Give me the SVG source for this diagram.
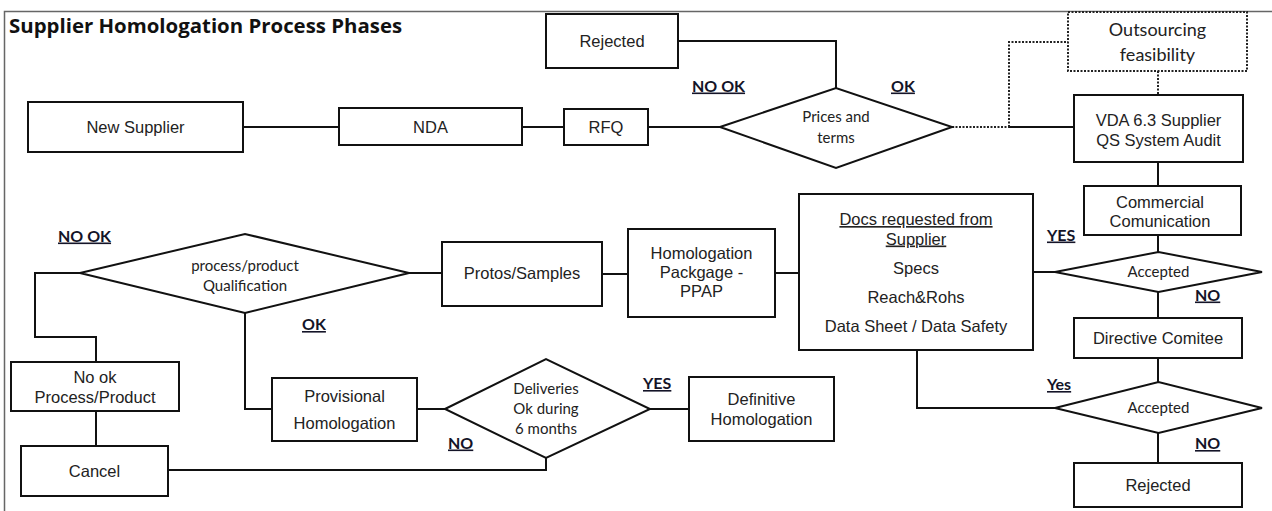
<svg xmlns="http://www.w3.org/2000/svg" width="1272" height="511" viewBox="0 0 1272 511">
<style>
.box{fill:#fff;stroke:#111;stroke-width:2}
.dbox{fill:#fff;stroke:#222;stroke-width:2;stroke-dasharray:2 1.5}
.conn{fill:none;stroke:#111;stroke-width:2}
.dot{fill:none;stroke:#222;stroke-width:2;stroke-dasharray:2 1.5}
.t{font-family:"Liberation Sans",Arial,sans-serif;font-size:16.5px;fill:#222;text-anchor:middle}
.c{font-family:Lato,"Open Sans",sans-serif;font-size:15px;fill:#222;text-anchor:middle}
.lbl{font-family:Lato,"Open Sans",sans-serif;font-weight:bold;font-size:16px;fill:#141428;text-decoration:underline}
.title{font-family:"Open Sans",Lato,sans-serif;font-weight:bold;font-size:20.4px;fill:#111}
</style>
<rect x="0" y="0" width="1272" height="511" fill="#fff"/>
<path d="M4.5,511 V11.5 H1272" fill="none" stroke="#666" stroke-width="1.5"/>
<text class="title" x="9" y="33">Supplier Homologation Process Phases</text>

<g id="connectors">
<path class="conn" d="M243,127 H339"/>
<path class="conn" d="M522,127 H564"/>
<path class="conn" d="M648,127 H720"/>
<path class="conn" d="M678,41 H836 V88"/>
<path class="dot" d="M952,127 H1009"/>
<path class="conn" d="M1009,127 H1074"/>
<path class="dot" d="M1009,127 V42 H1068"/>
<path class="dot" d="M1158,71 V95"/>
<path class="conn" d="M1158,162 V186"/>
<path class="conn" d="M1158,235 V252"/>
<path class="conn" d="M1033,272 H1055"/>
<path class="conn" d="M1158,292 V318"/>
<path class="conn" d="M1158,358 V382"/>
<path class="conn" d="M1158,433 V463"/>
<path class="conn" d="M917,350 V408 H1055"/>
<path class="conn" d="M775,273 H799"/>
<path class="conn" d="M602,274 H628"/>
<path class="conn" d="M409,273 H442"/>
<path class="conn" d="M80,273 H35 V337 H96 V362"/>
<path class="conn" d="M96,411 V446"/>
<path class="conn" d="M245,313 V409 H272"/>
<path class="conn" d="M417,409 H445"/>
<path class="conn" d="M650,409 H689"/>
<path class="conn" d="M546,458 V470 H168"/>
</g>

<g id="labels">
<text class="lbl" x="692" y="91.5">NO OK</text>
<text class="lbl" x="891" y="91.5">OK</text>
<text class="lbl" x="58" y="241.5">NO OK</text>
<text class="lbl" x="302" y="330">OK</text>
<text class="lbl" x="643" y="389">YES</text>
<text class="lbl" x="448" y="448.5">NO</text>
<text class="lbl" x="1047" y="240.5">YES</text>
<text class="lbl" x="1047" y="390">Yes</text>
<text class="lbl" x="1195" y="300.5">NO</text>
<text class="lbl" x="1195" y="449">NO</text>
</g>

<g id="rejected-top">
<rect class="box" x="546" y="14" width="132" height="54"/>
<text class="t" x="612" y="46.5">Rejected</text>
</g>
<g id="new-supplier">
<rect class="box" x="28" y="102" width="215" height="50"/>
<text class="t" x="135.5" y="133">New Supplier</text>
</g>
<g id="nda">
<rect class="box" x="339" y="108" width="183" height="37"/>
<text class="t" x="430.5" y="132.5">NDA</text>
</g>
<g id="rfq">
<rect class="box" x="564" y="109" width="84" height="36"/>
<text class="t" x="606" y="133">RFQ</text>
</g>
<g id="prices-terms">
<polygon class="box" points="720,127 836,88 952,127 836,168"/>
<text class="c" x="836" y="122">Prices and</text>
<text class="c" x="836" y="143">terms</text>
</g>
<g id="outsourcing">
<rect class="dbox" x="1068" y="12" width="179" height="59"/>
<text class="c" x="1157.5" y="35.5" style="font-size:18px">Outsourcing</text>
<text class="c" x="1157.5" y="60.5" style="font-size:18px">feasibility</text>
</g>
<g id="vda">
<rect class="box" x="1074" y="95" width="169" height="67"/>
<text class="t" x="1158.5" y="125.5">VDA 6.3 Supplier</text>
<text class="t" x="1158.5" y="145.5">QS System Audit</text>
</g>
<g id="commercial">
<rect class="box" x="1084" y="186" width="157" height="49"/>
<text class="t" x="1160" y="208">Commercial</text>
<text class="t" x="1160" y="227">Comunication</text>
</g>
<g id="accepted-1">
<polygon class="box" points="1055,272 1158.5,252 1262,272 1158.5,292"/>
<text class="c" x="1158.5" y="277">Accepted</text>
</g>
<g id="directive">
<rect class="box" x="1074" y="318" width="168" height="40"/>
<text class="t" x="1158" y="344">Directive Comitee</text>
</g>
<g id="accepted-2">
<polygon class="box" points="1055,408 1158.5,382 1262,408 1158.5,433"/>
<text class="c" x="1158.5" y="413">Accepted</text>
</g>
<g id="rejected-bottom">
<rect class="box" x="1074" y="463" width="168" height="44"/>
<text class="t" x="1158" y="490.5">Rejected</text>
</g>
<g id="docs">
<rect class="box" x="799" y="194" width="234" height="156"/>
<text class="t" x="916" y="225" text-decoration="underline">Docs requested from</text>
<text class="t" x="916" y="244.5" text-decoration="underline">Supplier</text>
<text class="t" x="916" y="274">Specs</text>
<text class="t" x="916" y="302.5">Reach&amp;Rohs</text>
<text class="t" x="916" y="331.5">Data Sheet / Data Safety</text>
</g>
<g id="homologation-package">
<rect class="box" x="628" y="229" width="147" height="88"/>
<text class="t" x="701.5" y="259">Homologation</text>
<text class="t" x="701.5" y="278">Packgage -</text>
<text class="t" x="701.5" y="297">PPAP</text>
</g>
<g id="protos">
<rect class="box" x="442" y="242" width="160" height="64"/>
<text class="t" x="522" y="279">Protos/Samples</text>
</g>
<g id="qualification">
<polygon class="box" points="80,273 245,234 409,273 245,313"/>
<text class="c" x="245" y="271">process/product</text>
<text class="c" x="245" y="291">Qualification</text>
</g>
<g id="no-ok">
<rect class="box" x="11" y="362" width="168" height="49"/>
<text class="t" x="95" y="383">No ok</text>
<text class="t" x="95" y="402.5">Process/Product</text>
</g>
<g id="cancel">
<rect class="box" x="21" y="446" width="147" height="50"/>
<text class="t" x="94.5" y="477">Cancel</text>
</g>
<g id="provisional">
<rect class="box" x="272" y="378" width="145" height="63"/>
<text class="t" x="344.5" y="401.5">Provisional</text>
<text class="t" x="344.5" y="429">Homologation</text>
</g>
<g id="deliveries">
<polygon class="box" points="445,409 546,359 650,409 546,458"/>
<text class="c" x="546" y="394">Deliveries</text>
<text class="c" x="546" y="414">Ok during</text>
<text class="c" x="546" y="434">6 months</text>
</g>
<g id="definitive">
<rect class="box" x="689" y="377" width="145" height="64"/>
<text class="t" x="761.5" y="405">Definitive</text>
<text class="t" x="761.5" y="424.5">Homologation</text>
</g>
</svg>
